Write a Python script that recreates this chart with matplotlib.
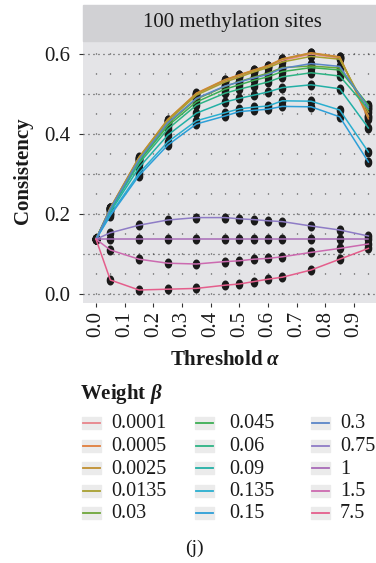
import numpy as np
import matplotlib
matplotlib.use('Agg')
import matplotlib.pyplot as plt
from matplotlib.patches import Rectangle
from matplotlib.lines import Line2D

plt.rcParams['font.family'] = ['Liberation Serif', 'DejaVu Serif']
plt.rcParams['mathtext.fontset'] = 'custom'
plt.rcParams['mathtext.it'] = 'Liberation Serif:italic:bold'
plt.rcParams['mathtext.rm'] = 'Liberation Serif:bold'
plt.rcParams['lines.scale_dashes'] = False

# threshold alpha values (x) and tick labels
alpha = [0.0, 0.05, 0.15, 0.25, 0.35, 0.45, 0.5, 0.55, 0.6, 0.65, 0.75, 0.85, 0.95]
x_ticks = [0.0, 0.1, 0.2, 0.3, 0.4, 0.5, 0.6, 0.7, 0.8, 0.9]
y_ticks = [0.0, 0.2, 0.4, 0.6]

weights = ['0.0001', '0.0005', '0.0025', '0.0135', '0.03', '0.045', '0.06',
           '0.09', '0.135', '0.15', '0.3', '0.75', '1', '1.5', '7.5']
colors = ['#E8838A', '#E07E3C', '#C09030', '#A8A030', '#6EA63A', '#3DAF55', '#2DB384',
          '#22B0A6', '#2AAFD0', '#2D9FD8', '#5A86C8', '#8E7CC6', '#A86BB8', '#CC6AB0', '#E55E8C']

# consistency per weight beta
c_0_0001 = [0.137, 0.214, 0.340, 0.433, 0.500, 0.533, 0.545, 0.557, 0.568, 0.584, 0.600, 0.590, 0.445]
c_0_0005 = [0.137, 0.215, 0.341, 0.436, 0.502, 0.536, 0.548, 0.560, 0.571, 0.588, 0.603, 0.593, 0.438]
c_0_0025 = [0.137, 0.215, 0.342, 0.436, 0.501, 0.535, 0.547, 0.559, 0.570, 0.587, 0.602, 0.592, 0.443]
c_0_0135 = [0.137, 0.214, 0.338, 0.432, 0.497, 0.530, 0.542, 0.555, 0.566, 0.580, 0.594, 0.587, 0.455]
c_0_03 = [0.137, 0.212, 0.334, 0.425, 0.487, 0.519, 0.531, 0.542, 0.552, 0.566, 0.570, 0.565, 0.470]
c_0_045 = [0.137, 0.211, 0.331, 0.420, 0.480, 0.512, 0.523, 0.534, 0.543, 0.556, 0.566, 0.560, 0.472]
c_0_06 = [0.137, 0.209, 0.326, 0.412, 0.472, 0.502, 0.512, 0.521, 0.530, 0.543, 0.553, 0.545, 0.462]
c_0_09 = [0.137, 0.205, 0.316, 0.397, 0.452, 0.480, 0.489, 0.497, 0.505, 0.516, 0.523, 0.513, 0.415]
c_0_135 = [0.137, 0.199, 0.302, 0.380, 0.433, 0.453, 0.463, 0.467, 0.470, 0.483, 0.482, 0.460, 0.355]
c_0_15 = [0.137, 0.196, 0.296, 0.372, 0.425, 0.445, 0.456, 0.459, 0.462, 0.469, 0.468, 0.443, 0.330]
c_0_3 = [0.137, 0.213, 0.336, 0.428, 0.489, 0.520, 0.530, 0.540, 0.549, 0.564, 0.576, 0.569, 0.466]
c_0_75 = [0.137, 0.153, 0.172, 0.185, 0.191, 0.191, 0.188, 0.186, 0.183, 0.181, 0.170, 0.160, 0.145]
c_1 = [0.137, 0.137, 0.137, 0.137, 0.137, 0.137, 0.137, 0.137, 0.137, 0.137, 0.137, 0.137, 0.137]
c_1_5 = [0.137, 0.110, 0.087, 0.077, 0.075, 0.081, 0.083, 0.087, 0.089, 0.093, 0.104, 0.114, 0.125]
c_7_5 = [0.137, 0.035, 0.010, 0.012, 0.014, 0.022, 0.025, 0.031, 0.037, 0.042, 0.060, 0.087, 0.114]

series = [c_0_0001, c_0_0005, c_0_0025, c_0_0135, c_0_03, c_0_045, c_0_06,
          c_0_09, c_0_135, c_0_15, c_0_3, c_0_75, c_1, c_1_5, c_7_5]

W, H = 376, 563
fig = plt.figure(figsize=(W / 100, H / 100), dpi=100)


def fx(px):
    return px / W


def fy(py):
    return 1 - py / H


# panel
left, right, top, bottom = 83, 381, 41, 303
ax = fig.add_axes([fx(left), fy(bottom), fx(right) - fx(left), fy(top) - fy(bottom)])
ax.set_facecolor('#E4E4E7')
ax.set_xlim(-0.0453, 0.994)
ax.set_ylim(-0.0225, 0.6325)
for s in ax.spines.values():
    s.set_visible(False)

# dotted grid
for v in np.arange(0, 0.951, 0.05):
    ax.axvline(v, color='#333333', lw=0.9, ls=(7.9, (0.7, 13.7)), zorder=0.5)
for v in np.arange(0, 0.61, 0.1):
    ax.axhline(v, color='#333333', lw=0.9, ls=(0, (0.7, 2.9)), zorder=0.5)

# ellipse-ish point marker
theta = np.linspace(0, 2 * np.pi, 40)
dot = np.column_stack([0.72 * np.cos(theta), np.sin(theta)])

for vals in series:
    ax.plot(alpha, vals, ls='none', marker=dot, ms=6.2, color='#1a1a1a', zorder=2)
for vals, col in zip(series, colors):
    ax.plot(alpha, vals, color=col, lw=1.1, zorder=3)

ax.set_xticks(x_ticks)
ax.set_xticklabels([f'{v:.1f}' for v in x_ticks], rotation=90)
ax.set_yticks(y_ticks)
ax.set_yticklabels([f'{v:.1f}' for v in y_ticks])
ax.tick_params(axis='both', length=3, width=0.8, color='#333333', labelsize=15,
               labelcolor='#1a1a1a')
ax.tick_params(axis='x', pad=3)
ax.tick_params(axis='y', pad=6)

# facet strip
fig.patches.append(Rectangle((fx(left), fy(top)), fx(right) - fx(left), fy(5) - fy(top),
                             transform=fig.transFigure, color='#D1D1D4', zorder=0))
fig.text(fx(232), fy(22), '100 methylation sites', ha='center', va='center',
         fontsize=15, color='#1a1a1a')

fig.text(fx(23), fy(171), 'Consistency', rotation=90, ha='center', va='center',
         fontsize=15, fontweight='bold', color='#1a1a1a')
fig.text(fx(225), fy(360), r'Threshold $\alpha$', ha='center', va='center',
         fontsize=15, fontweight='bold', color='#1a1a1a')

# legend
fig.text(fx(80), fy(394), r'Weight $\beta$', ha='left', va='center',
         fontsize=15, fontweight='bold', color='#1a1a1a')
key_x = [82, 195, 311]
text_x = [111, 229, 340]
row_y = [423, 445.5, 468, 490.5, 513]
for i, (lab, col) in enumerate(zip(weights, colors)):
    c, r = i // 5, i % 5
    kx, ky = key_x[c], row_y[r]
    fig.patches.append(Rectangle((fx(kx), fy(ky + 6)), fx(19), 12 / H,
                                 transform=fig.transFigure, color='#EBEBEB', zorder=0))
    fig.lines.append(Line2D([fx(kx + 1), fx(kx + 18)], [fy(ky), fy(ky)],
                            transform=fig.transFigure, color=col, lw=1.3))
    fig.text(fx(text_x[c]), fy(ky + 1), lab, ha='left', va='center',
             fontsize=14.5, color='#1a1a1a')

fig.text(fx(194), fy(548), '(j)', ha='center', va='center', fontsize=14, color='#1a1a1a')

fig.savefig('out.png', dpi=100)
